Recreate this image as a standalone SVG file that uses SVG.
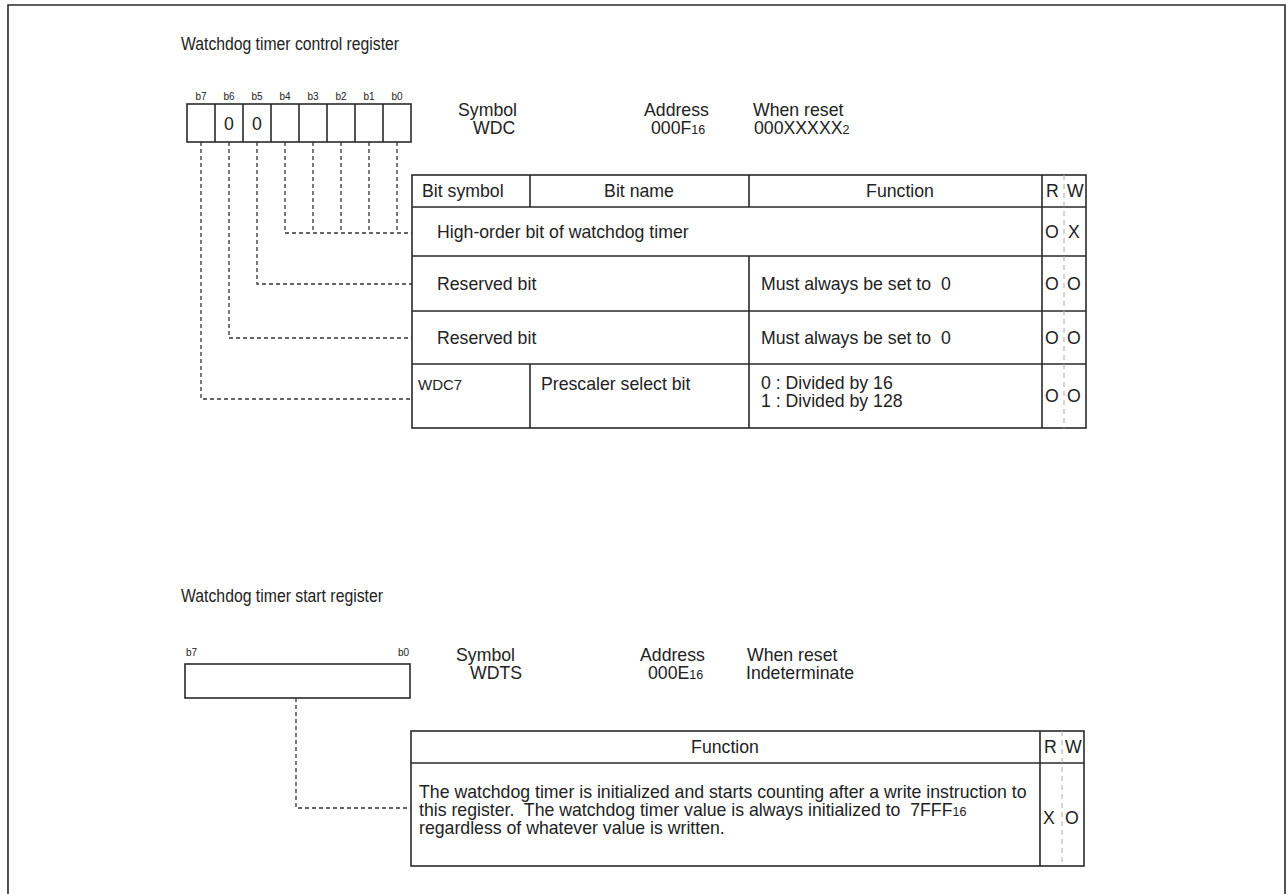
<svg xmlns="http://www.w3.org/2000/svg" width="1286" height="894" viewBox="0 0 1286 894">
<style>
text{font-family:"Liberation Sans",Arial,sans-serif;fill:#222;white-space:pre}
.t{font-size:17.7px}
.ti{font-size:17.5px}
.bl{font-size:10px}
.sub{font-size:12.5px}
.ln{stroke:#2a2a2a;stroke-width:1.6;fill:none}
.ds{stroke:#333;stroke-width:1.3;stroke-dasharray:4 3;fill:none}
.rw{stroke:#aaa;stroke-width:1;stroke-dasharray:5 4;fill:none}
.c{text-anchor:middle}
</style>
<rect x="0" y="0" width="1286" height="894" fill="#fff"/>
<path class="ln" d="M8,900 V5 H1285 V900"/>

<g id="wdc-title"><text class="ti" x="181" y="50" textLength="218" lengthAdjust="spacingAndGlyphs">Watchdog timer control register</text></g>

<g id="wdc-bits">
<g class="bl c">
<text x="201" y="100">b7</text><text x="229" y="100">b6</text><text x="257" y="100">b5</text><text x="285" y="100">b4</text>
<text x="313" y="100">b3</text><text x="341" y="100">b2</text><text x="369" y="100">b1</text><text x="397" y="100">b0</text>
</g>
<rect class="ln" x="187" y="104" width="224" height="38"/>
<path class="ln" d="M215,104V142M243,104V142M271,104V142M299,104V142M327,104V142M355,104V142M383,104V142"/>
<text class="t c" x="229" y="130">0</text><text class="t c" x="257" y="130">0</text>
</g>

<g id="wdc-info">
<text class="t" x="458" y="116">Symbol</text><text class="t" x="473" y="134">WDC</text>
<text class="t" x="644" y="116">Address</text><text class="t" x="651" y="134">000F<tspan class="sub">16</tspan></text>
<text class="t" x="753" y="116">When reset</text><text class="t" x="754" y="134">000XXXXX<tspan class="sub">2</tspan></text>
</g>

<g id="wdc-table">
<rect class="ln" x="412" y="175" width="674" height="253"/>
<path class="ln" d="M412,207H1086M412,256H1086M412,311H1086M412,364H1086M530,175V207M530,364V428M749,175V207M749,256V428M1042,175V428"/>
<path class="rw" d="M1064,175V428"/>
<text class="t" x="422" y="197">Bit symbol</text>
<text class="t c" x="639" y="197">Bit name</text>
<text class="t c" x="900" y="197">Function</text>
<text class="t" x="1046" y="197">R</text><text class="t" x="1067" y="197">W</text>
<text class="t" x="437" y="238">High-order bit of watchdog timer</text>
<text class="t" x="1045" y="238">O</text><text class="t" x="1068" y="238">X</text>
<text class="t" x="437" y="290">Reserved bit</text>
<text class="t" x="761" y="290">Must always be set to  0</text>
<text class="t" x="1045" y="290">O</text><text class="t" x="1067" y="290">O</text>
<text class="t" x="437" y="344">Reserved bit</text>
<text class="t" x="761" y="344">Must always be set to  0</text>
<text class="t" x="1045" y="344">O</text><text class="t" x="1067" y="344">O</text>
<text class="t" x="418" y="390" style="font-size:15px">WDC7</text>
<text class="t" x="541" y="390">Prescaler select bit</text>
<text class="t" x="761" y="389">0 : Divided by 16<tspan x="761" dy="18">1 : Divided by 128</tspan></text>
<text class="t" x="1045" y="402">O</text><text class="t" x="1067" y="402">O</text>
</g>

<g id="wdts-title"><text class="ti" x="181" y="602" textLength="202" lengthAdjust="spacingAndGlyphs">Watchdog timer start register</text></g>

<g id="wdts-reg">
<text class="bl" x="186" y="656">b7</text><text class="bl" x="398" y="656">b0</text>
<rect class="ln" x="185" y="664" width="225" height="34"/>
</g>

<g id="wdts-info">
<text class="t" x="456" y="661">Symbol</text><text class="t" x="470" y="679">WDTS</text>
<text class="t" x="640" y="661">Address</text><text class="t" x="648" y="679">000E<tspan class="sub">16</tspan></text>
<text class="t" x="747" y="661">When reset</text><text class="t" x="746" y="679">Indeterminate</text>
</g>

<g id="wdts-table">
<rect class="ln" x="411" y="731" width="673" height="135"/>
<path class="ln" d="M411,763H1084M1040,731V866"/>
<path class="rw" d="M1062,731V866"/>
<text class="t c" x="725" y="753">Function</text>
<text class="t" x="1044" y="753">R</text><text class="t" x="1065" y="753">W</text>
<text class="t" x="419" y="798">The watchdog timer is initialized and starts counting after a write instruction to<tspan x="419" dy="18">this register.  The watchdog timer value is always initialized to  7FFF<tspan class="sub">16</tspan></tspan><tspan x="419" dy="18">regardless of whatever value is written.</tspan></text>
<text class="t" x="1043" y="824">X</text><text class="t" x="1065" y="824">O</text>
</g>

<g id="connectors">
<path class="ds" d="M397,142V233M369,142V233M341,142V233M313,142V233M285,142V233H412"/>
<path class="ds" d="M257,142V284H412"/>
<path class="ds" d="M229,142V338H412"/>
<path class="ds" d="M201,142V399H412"/>
<path class="ds" d="M296,698V808H411"/>
</g>
</svg>
